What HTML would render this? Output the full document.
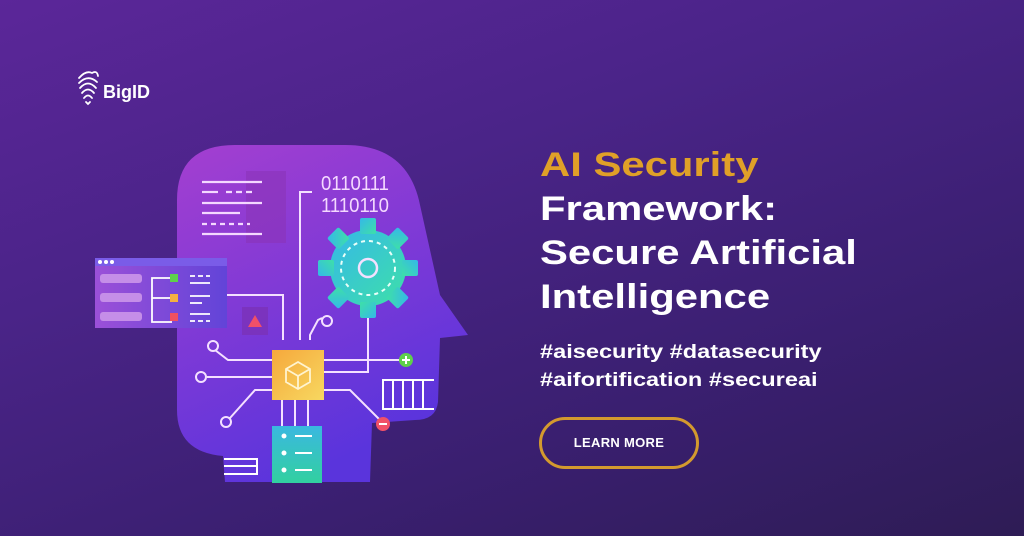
<!DOCTYPE html>
<html><head><meta charset="utf-8"><style>
html,body{margin:0;padding:0}
body{width:1024px;height:536px;overflow:hidden;position:relative;font-family:"Liberation Sans",sans-serif;
background:linear-gradient(160deg,#5b2699 0%,#4a2488 35%,#3a1f70 70%,#2e1c55 100%);}
.t{position:absolute;left:540px;font-weight:bold;color:#fff;white-space:nowrap;transform-origin:0 0}
.big{font-size:34px;transform:scaleX(1.23)}
.tag{font-size:19px;transform:scaleX(1.24)}
.btn{position:absolute;left:539px;top:417px;width:154px;height:46px;border:3px solid #d49a2e;border-radius:26px;color:#fff;font-weight:bold;font-size:13px;text-align:center;line-height:46px;letter-spacing:0.3px}
</style></head><body>
<svg width="1024" height="536" style="position:absolute;left:0;top:0">
<defs>
<linearGradient id="hg" x1="0" y1="0" x2="0.4" y2="1"><stop offset="0" stop-color="#a43fd0"/><stop offset="1" stop-color="#5a34dc"/></linearGradient>
<linearGradient id="gg" x1="0" y1="0" x2="1" y2="1"><stop offset="0" stop-color="#35b8e8"/><stop offset="1" stop-color="#3ee0a8"/></linearGradient>
<linearGradient id="cg" x1="0" y1="0" x2="1" y2="1"><stop offset="0" stop-color="#f6a83c"/><stop offset="1" stop-color="#f7d860"/></linearGradient>
<linearGradient id="sg" x1="0" y1="0" x2="0" y2="1"><stop offset="0" stop-color="#3ab8e0"/><stop offset="1" stop-color="#32d0a0"/></linearGradient>
<linearGradient id="pg" x1="0" y1="0" x2="1" y2="0"><stop offset="0" stop-color="#9b50d8"/><stop offset="1" stop-color="#6244d8"/></linearGradient>
</defs>
<!-- logo -->
<g fill="none" stroke="#fff" stroke-width="1.8" stroke-linecap="round">
<path d="M79 78 Q86 70 92 73 Q97 70 98 76"/>
<path d="M79 83 Q88 74 97 82"/>
<path d="M80 88 Q88 79 96 88"/>
<path d="M82 93 Q88 86 94 93"/>
<path d="M84 98 Q88 93 92 98"/>
<path d="M86 102 L88 104 L90 102"/>
</g>
<text x="103" y="98" fill="#fff" font-family="Liberation Sans" font-weight="bold" font-size="18">BigID</text>
<!-- head -->
<path d="M177 200 Q177 145 235 145 L345 145 Q408 145 420 205 L440 295 L468 335 L440 338 L438 402 Q436 420 415 420 L372 423 L370 482 L225 482 L223 456 Q177 452 177 410 Z" fill="url(#hg)"/>
<rect x="246" y="171" width="40" height="72" fill="#8a34b8" opacity="0.6"/>
<g stroke="#f4d8ff" stroke-width="2.2">
<line x1="202" y1="182" x2="262" y2="182"/><line x1="202" y1="192" x2="218" y2="192"/><line x1="226" y1="192" x2="252" y2="192" stroke-dasharray="6,4"/>
<line x1="202" y1="203" x2="262" y2="203"/><line x1="202" y1="213" x2="240" y2="213"/><line x1="202" y1="224" x2="250" y2="224" stroke-dasharray="5,4"/>
<line x1="202" y1="234" x2="262" y2="234"/>
</g>
<text x="321" y="190" fill="#f4d8ff" font-family="Liberation Sans" font-size="20" textLength="68" lengthAdjust="spacingAndGlyphs">0110111</text>
<text x="321" y="212" fill="#f4d8ff" font-family="Liberation Sans" font-size="20" textLength="68" lengthAdjust="spacingAndGlyphs">1110110</text>
<!-- circuit lines -->
<g stroke="#f4e0ff" stroke-width="2" fill="none">
<polyline points="300,340 300,192 312,192"/>
<polyline points="225,295 283,295 283,340"/>
<polyline points="310,340 310,335 318,320 322,318"/>
<polyline points="215,350 228,360 272,360"/>
<polyline points="207,377 272,377"/>
<polyline points="272,390 255,390 230,418"/>
<polyline points="324,360 400,360"/>
<polyline points="324,372 368,372 368,312"/>
<polyline points="324,390 350,390 380,420"/>
<line x1="282" y1="400" x2="282" y2="428"/><line x1="295" y1="400" x2="295" y2="428"/><line x1="308" y1="400" x2="308" y2="428"/>
<circle cx="213" cy="346" r="5"/><circle cx="201" cy="377" r="5"/><circle cx="226" cy="422" r="5"/><circle cx="327" cy="321" r="5"/>
</g>
<!-- gear -->
<g transform="translate(368,268)">
<g fill="url(#gg)">
<circle r="38"/>
<g id="tooth"><rect x="-8" y="-50" width="16" height="16" rx="2"/></g>
<use href="#tooth" transform="rotate(45)"/><use href="#tooth" transform="rotate(90)"/><use href="#tooth" transform="rotate(135)"/>
<use href="#tooth" transform="rotate(180)"/><use href="#tooth" transform="rotate(225)"/><use href="#tooth" transform="rotate(270)"/><use href="#tooth" transform="rotate(315)"/>
</g>
<circle r="27" fill="none" stroke="#e8fff8" stroke-width="2" stroke-dasharray="4,4"/>
<circle r="9" fill="none" stroke="#f4e0ff" stroke-width="2.5"/>
</g>
<!-- chip -->
<rect x="272" y="350" width="52" height="50" fill="url(#cg)"/>
<g fill="none" stroke="#fff4d0" stroke-width="1.8"><path d="M298 362 L310 369 L310 382 L298 389 L286 382 L286 369 Z M286 369 L298 376 L310 369 M298 376 L298 389"/></g>
<!-- panel -->
<rect x="95" y="258" width="132" height="70" fill="url(#pg)"/>
<rect x="95" y="258" width="132" height="8" fill="#7a5ce8"/>
<circle cx="100" cy="262" r="2" fill="#fff"/><circle cx="106" cy="262" r="2" fill="#fff"/><circle cx="112" cy="262" r="2" fill="#fff"/>
<g fill="#c58ee8"><rect x="100" y="274" width="42" height="9" rx="3"/><rect x="100" y="293" width="42" height="9" rx="3"/><rect x="100" y="312" width="42" height="9" rx="3"/></g>
<g stroke="#fff" stroke-width="1.8" fill="none"><polyline points="172,278 152,278 152,322 172,322"/><line x1="152" y1="298" x2="172" y2="298"/>
<line x1="190" y1="276" x2="210" y2="276" stroke-dasharray="5,3"/><line x1="190" y1="283" x2="210" y2="283"/><line x1="190" y1="296" x2="210" y2="296"/><line x1="190" y1="303" x2="202" y2="303"/><line x1="190" y1="314" x2="210" y2="314"/><line x1="190" y1="321" x2="210" y2="321" stroke-dasharray="5,3"/></g>
<rect x="170" y="274" width="8" height="8" fill="#5ed04a"/><rect x="170" y="294" width="8" height="8" fill="#f4b040"/><rect x="170" y="313" width="8" height="8" fill="#f05060"/>
<!-- triangle box -->
<rect x="242" y="307" width="26" height="28" fill="#7a32b8" opacity="0.8"/>
<polygon points="255,315 262,327 248,327" fill="#f05068"/>
<!-- plus/minus -->
<circle cx="406" cy="360" r="7" fill="#5ed04a"/><path d="M402 360 H410 M406 356 V364" stroke="#fff" stroke-width="2"/>
<circle cx="383" cy="424" r="7" fill="#f05068"/><path d="M379 424 H387" stroke="#fff" stroke-width="2"/>
<!-- ladder -->
<g stroke="#fff" stroke-width="2" fill="none"><path d="M434 380 H383 V409 H434"/><line x1="393" y1="380" x2="393" y2="409"/><line x1="403" y1="380" x2="403" y2="409"/><line x1="413" y1="380" x2="413" y2="409"/><line x1="423" y1="380" x2="423" y2="409"/></g>
<!-- server -->
<rect x="272" y="426" width="50" height="57" fill="url(#sg)"/>
<g fill="#fff" stroke="#fff" stroke-width="2"><circle cx="284" cy="436" r="1.5"/><circle cx="284" cy="453" r="1.5"/><circle cx="284" cy="470" r="1.5"/>
<line x1="295" y1="436" x2="312" y2="436"/><line x1="295" y1="453" x2="312" y2="453"/><line x1="295" y1="470" x2="312" y2="470"/></g>
<g stroke="#fff" stroke-width="2" fill="none"><path d="M224 459 H257 V474 H224 M224 466 H257"/></g>
</svg>
<div class="t big" style="top:146px;color:#e0a028">AI Security</div>
<div class="t big" style="top:190px">Framework:</div>
<div class="t big" style="top:234px">Secure Artificial</div>
<div class="t big" style="top:278px">Intelligence</div>
<div class="t tag" style="top:342px">#aisecurity #datasecurity</div>
<div class="t tag" style="top:370px">#aifortification #secureai</div>
<div class="btn">LEARN MORE</div>
</body></html>
